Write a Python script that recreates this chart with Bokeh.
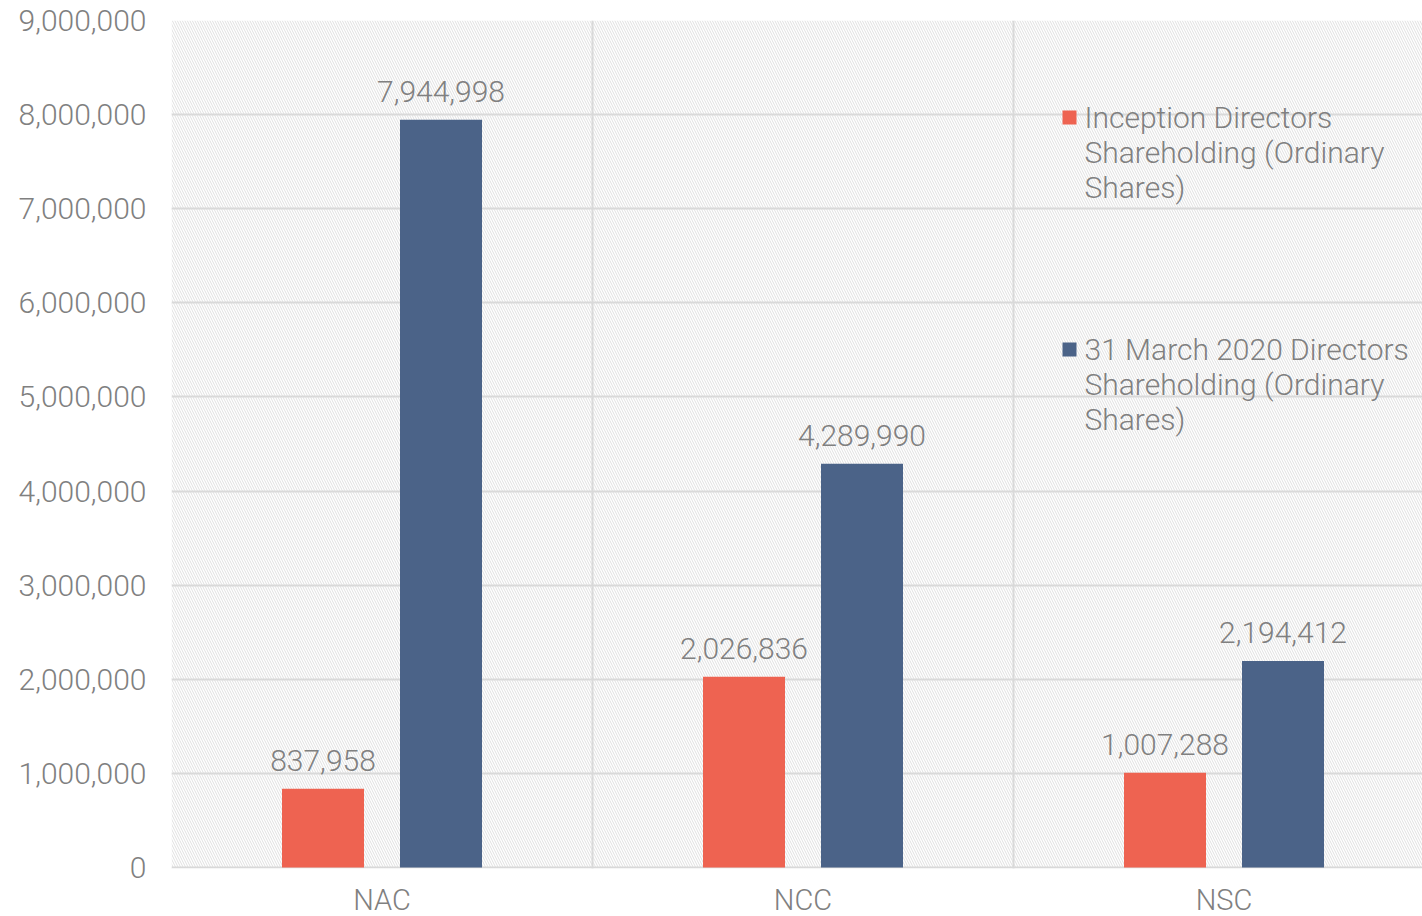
from bokeh.plotting import figure
from bokeh.models import Range1d, FixedTicker, NumeralTickFormatter, BoxAnnotation, ColumnDataSource, Label
from bokeh.transform import dodge
from bokeh.embed import file_html
from bokeh.resources import INLINE
from bokeh.core.properties import value

categories = ["NAC", "NCC", "NSC"]
inception = [837958, 2026836, 1007288]
march2020 = [7944998, 4289990, 2194412]
series_names = ["Inception Directors\nShareholding (Ordinary\nShares)",
                "31 March 2020 Directors\nShareholding (Ordinary\nShares)"]
y_ticks = [0, 1000000, 2000000, 3000000, 4000000, 5000000, 6000000, 7000000, 8000000, 9000000]
Y_MAX = 9000000

ORANGE = "#EE6351"
BLUE = "#4B6388"
GRID = "#d9d9d9"
TXT = "#808080"
FONT = "Roboto Light"
FS = "30px"

W, H = 1422, 916
left_b, top_b = 171, 20
frame_w = W - left_b
cat_px = 421.0
px_per_unit = 847 / Y_MAX          # 0 at 867px, 9,000,000 at 20px
below_px = H - 867                  # room under the zero line for the category labels
y_start = -below_px / px_per_unit

p = figure(width=W, height=H, output_backend="svg", toolbar_location=None,
           x_range=Range1d(0, frame_w / cat_px), y_range=Range1d(y_start, Y_MAX),
           min_border_left=left_b, min_border_right=0,
           min_border_top=top_b, min_border_bottom=0)
p.outline_line_color = None
p.background_fill_color = "white"
p.border_fill_color = "white"

# hatched plot background
p.add_layout(BoxAnnotation(left=0, right=len(categories), bottom=0, top=Y_MAX, fill_color="white",
                           fill_alpha=1.0, line_color=None, hatch_pattern="\\", hatch_color="#e0e0e0",
                           hatch_scale=5, hatch_weight=1, level="image"))

# white strip below the zero line (hides vertical grid lines there)
p.add_layout(BoxAnnotation(left=0, right=len(categories), bottom=y_start, top=-1.0 / px_per_unit,
                           fill_color="white", fill_alpha=1.0, line_color=None, level="underlay"))

xs = [i + 0.5 for i in range(len(categories))]
src = ColumnDataSource(dict(x=xs, cat=categories, zero=[0] * len(categories),
                            inc=inception, mar=march2020,
                            inc_lbl=[f"{v:,}" for v in inception],
                            mar_lbl=[f"{v:,}" for v in march2020]))
bw = 82 / cat_px
off = 59 / cat_px
p.vbar(x=dodge("x", -off), top="inc", width=bw, bottom=0, source=src, fill_color=ORANGE, line_color=None)
p.vbar(x=dodge("x", off), top="mar", width=bw, bottom=0, source=src, fill_color=BLUE, line_color=None)

for col in ["inc", "mar"]:
    p.text(x=dodge("x", -off if col == "inc" else off), y=col, text=col + "_lbl", source=src,
           text_align="center", text_baseline="alphabetic", y_offset=-28,
           text_font=value(FONT), text_font_size=FS, text_color=TXT)

# category labels under the zero line
p.xaxis.visible = False
p.text(x="x", y="zero", text="cat", source=src, text_align="center", text_baseline="middle",
       y_offset=32, text_font=value(FONT), text_font_size="29px", text_color=TXT)

p.yaxis.ticker = FixedTicker(ticks=y_ticks)
p.yaxis.formatter = NumeralTickFormatter(format="0,0")
p.yaxis.major_tick_line_color = None
p.yaxis.minor_tick_line_color = None
p.yaxis.axis_line_color = None
p.yaxis.major_label_text_font = FONT
p.yaxis.major_label_text_font_size = FS
p.yaxis.major_label_text_color = TXT
p.yaxis.major_label_standoff = 19

p.xgrid.ticker = FixedTicker(ticks=[0, 1, 2, 3])
p.xgrid.grid_line_color = GRID
p.xgrid.grid_line_width = 2
p.ygrid.ticker = FixedTicker(ticks=y_ticks)
p.ygrid.grid_line_color = GRID
p.ygrid.grid_line_width = 2

# manual legend (wrapped labels)
def yv(px):
    return (867 - px) / px_per_unit
def xv(px):
    return (px - left_b) / cat_px

for name, col, ytop in [(series_names[0], ORANGE, 110), (series_names[1], BLUE, 342)]:
    p.add_layout(BoxAnnotation(left=xv(1062), right=xv(1076), top=yv(ytop), bottom=yv(ytop + 14),
                               fill_color=col, fill_alpha=1.0, line_color=None))
    p.add_layout(Label(x=xv(1084), y=yv(ytop - 11), text=name, text_baseline="top", text_align="left",
                       text_font=FONT, text_font_size=FS, text_color=TXT, text_line_height=1.0))

open("out.html", "w").write(file_html(p, INLINE))
